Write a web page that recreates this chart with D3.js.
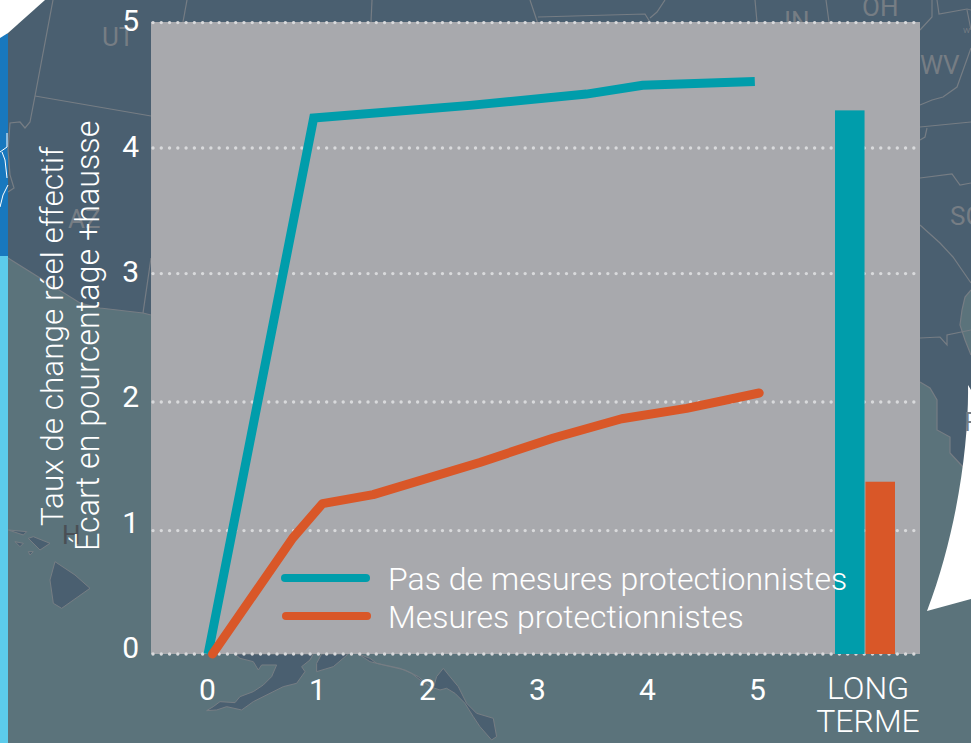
<!DOCTYPE html>
<html>
<head>
<meta charset="utf-8">
<script src="https://cdn.jsdelivr.net/npm/d3@7"></script>
<style>
html, body { margin: 0; padding: 0; background: #fff; }
svg { display: block; }
text { font-family: Roboto, sans-serif; fill: #fff; }
</style>
</head>
<body>
<svg width="971" height="743"></svg>
<script>
// data
var yTicks = [0, 1, 2, 3, 4, 5];
var xTicks = [0, 1, 2, 3, 4, 5];
var seriesNames = ["Pas de mesures protectionnistes", "Mesures protectionnistes"];
var seriesColors = ["#009dab", "#d95728"];
var noMeasuresX = [0.01, 0.97, 2.39, 3.45, 3.96, 4.98];
var noMeasuresY = [0, 4.24, 4.34, 4.43, 4.50, 4.53];
var measuresX = [0.05, 0.78, 1.05, 1.51, 2.48, 3.15, 3.77, 4.36, 5.02];
var measuresY = [0, 0.94, 1.21, 1.28, 1.53, 1.72, 1.87, 1.95, 2.07];
var longTerm = [4.30, 1.38];
var yTitle = ["Taux de change réel effectif", "Écart en pourcentage +hausse"];
var longLabel = ["LONG", "TERME"];

var svg = d3.select("svg");

// fond : carte des Etats-Unis (decor)
var land = "#4a5f70", sea = "#5b737b", border = "#767d84";
var bg = svg.append("g");
bg.append("rect").attr("width", 971).attr("height", 743).attr("fill", sea);
bg.append("rect").attr("y", 34).attr("width", 8).attr("height", 226).attr("fill", "#1878be");
bg.append("rect").attr("y", 256).attr("width", 8).attr("height", 487).attr("fill", "#5ccbeb");
bg.append("path").attr("fill", land)
  .attr("d", "M8,33L45,0H971V290L965,297L962,310L960,325L965,340L971,355V395L963,467L950,453L950,437L937,430L937,400L930,388L920,382H151V315L143,313L100,308L80,303L8,258Z");

var borders = [
  "M53,0L35,96L30,122L25,128L20,122L10,123L8,150L10,175L14,188L8,192",
  "M35,96L151,116",
  "M187,0L183,22",
  "M151,258L143,313",
  "M8,258L80,303L100,308L143,313L151,315",
  "M372,0L371,22",
  "M530,0L535,15L538,24M538,17L645,14L650,22M650,18L657,12L665,0",
  "M755,0L757,22M826,0L829,22",
  "M932,0L932,17L920,30",
  "M937,0L939,14L967,9L971,10M967,10L971,30",
  "M971,48L957,87L943,97L932,100L920,105",
  "M920,127L971,122M927,128L925,137L920,140",
  "M920,178L952,174L960,185L971,183",
  "M920,225L940,243L953,257L962,270L971,283",
  "M971,290L965,297L962,310L960,325L965,340L971,355",
  "M920,338L940,337L947,345L947,335L971,330",
  "M920,382L930,388L937,400L937,430L950,437L950,453L963,467"
];
bg.selectAll("path.border").data(borders).enter().append("path")
  .attr("class", "border")
  .attr("d", function(d) { return d; })
  .attr("fill", "none").attr("stroke", border).attr("stroke-width", 1.2);

// iles + Alaska
var islands = [
  "M165,245L150,300L160,370L185,385L270,325L225,285Z",
  "M85,175L100,170L150,190L120,210Z",
  "M45,185L70,190L60,200Z",
  "M25,150L80,155L70,165Z",
  "M85,215L100,215L90,225Z",
  "M705,522L720,535L760,545L775,570L785,555L830,555L815,590L790,615L760,635L720,650L705,668L660,665L640,680L620,692L650,690L680,680L725,690L760,665L810,640L850,620L890,610L915,575L905,560L930,540L940,522Z",
  "M950,575L1000,560L1045,522H965L950,550Z",
  "M1075,522L1110,535L1130,550L1200,565L1235,580L1260,600L1300,625L1310,590L1330,565L1350,590L1375,620L1400,670L1430,700L1480,715L1490,770L1475,780L1440,740L1420,710L1395,670L1365,640L1340,625L1320,630L1290,620L1255,590L1215,570L1150,555L1110,545Z"
];
bg.append("g").attr("transform", "translate(0,480) scale(0.3333)")
  .selectAll("path").data(islands).enter().append("path")
  .attr("d", function(d) { return d; })
  .attr("fill", land).attr("stroke", border).attr("stroke-width", 3);

// rivieres a gauche
bg.append("path").attr("fill", "none").attr("stroke", "#fff").attr("stroke-width", 1)
  .attr("d", "M7,133L7,147L0,152M2,152L5,160L7,178M8,185L3,195L0,207");

// blancs
bg.append("path").attr("fill", "#fff").attr("d", "M0,0H45L8,33L0,38Z");
bg.append("path").attr("fill", "#fff")
  .attr("d", "M968,385C969,440 958,530 927,611L971,599V390Z");

// noms des etats
var stateNames = [
  { t: "UT", x: 102, y: 46, s: 26, c: border },
  { t: "AZ", x: 68, y: 228, s: 26, c: border },
  { t: "H", x: 62, y: 544, s: 26, c: "#4a4f55" },
  { t: "OH", x: 862, y: 16, s: 26, c: border },
  { t: "IN", x: 784, y: 30, s: 26, c: border },
  { t: "WV", x: 920, y: 74, s: 26, c: border },
  { t: "SC", x: 950, y: 225, s: 26, c: border },
  { t: "F", x: 964, y: 431, s: 26, c: border },
  { t: "W", x: 963, y: 33, s: 8, c: border }
];
bg.selectAll("text").data(stateNames).enter().append("text")
  .attr("x", function(d) { return d.x; })
  .attr("y", function(d) { return d.y; })
  .attr("font-size", function(d) { return d.s; })
  .style("fill", function(d) { return d.c; })
  .text(function(d) { return d.t; });

// panneau gris
svg.append("rect").attr("x", 151).attr("y", 22).attr("width", 769).attr("height", 632).attr("fill", "#a8a9ad");

// echelles
var x = d3.scaleLinear().domain([0, 5]).range([207, 757]);
// les lignes de grille de l'original ne sont pas tout a fait regulieres
var y = d3.scaleLinear().domain(yTicks).range([654, 530.6, 402, 273.6, 148, 22.6]);
var yLabel = d3.scaleLinear().domain([0, 5]).range([648, 21]);
var barX = d3.scaleBand().domain(seriesNames).range([835, 895]).paddingInner(0.03);

// grille pointillee
svg.append("g").selectAll("line").data(yTicks).enter().append("line")
  .attr("x1", 153).attr("x2", 919)
  .attr("y1", function(d) { return y(d); })
  .attr("y2", function(d) { return y(d); })
  .attr("stroke", "#d9dadc")
  .attr("stroke-width", 3.4)
  .attr("stroke-linecap", "round")
  .attr("stroke-dasharray", "0 8.27");

// axes
var yAxis = svg.append("g").attr("transform", "translate(139,0)")
  .call(d3.axisLeft(yLabel).tickValues(yTicks).tickSize(0).tickPadding(0).tickFormat(d3.format("d")));
var xAxis = svg.append("g").attr("transform", "translate(0,679)")
  .call(d3.axisBottom(x).tickValues(xTicks).tickSize(0).tickPadding(0).tickFormat(d3.format("d")));
[yAxis, xAxis].forEach(function(a) {
  a.select(".domain").remove();
  a.selectAll("text").attr("font-size", 30).attr("font-weight", 400).attr("font-family", "Roboto, sans-serif");
});

// barres long terme
svg.append("g").selectAll("rect").data(longTerm).enter().append("rect")
  .attr("x", function(d, i) { return barX(seriesNames[i]); })
  .attr("y", function(d) { return y(d); })
  .attr("width", barX.bandwidth())
  .attr("height", function(d) { return y(0) - y(d); })
  .attr("fill", function(d, i) { return seriesColors[i]; });

svg.append("text").attr("text-anchor", "middle").attr("font-size", 32).attr("font-weight", 300)
  .selectAll("tspan").data(longLabel).enter().append("tspan")
  .attr("x", 868)
  .attr("y", function(d, i) { return 699 + i * 33; })
  .text(function(d) { return d; });

// legende (texte sous les barres, le s passe dessus)
var legendY = d3.scalePoint().domain(seriesNames).range([578, 616]);
var legend = svg.append("g").selectAll("g").data(seriesNames).enter().append("g");
legend.append("line")
  .attr("x1", function(d, i) { return 285 + i; })
  .attr("x2", function(d, i) { return 366 + i; })
  .attr("y1", function(d) { return legendY(d); })
  .attr("y2", function(d) { return legendY(d); })
  .attr("stroke", function(d, i) { return seriesColors[i]; })
  .attr("stroke-width", 8)
  .attr("stroke-linecap", "round");
legend.append("text")
  .attr("x", 388)
  .attr("y", function(d) { return legendY(d) + 12; })
  .attr("font-size", 32)
  .attr("font-weight", 300)
  .text(function(d) { return d; });

// courbes
var line = d3.line().x(function(d) { return x(d[0]); }).y(function(d) { return y(d[1]); });
svg.append("path")
  .attr("d", line(d3.zip(noMeasuresX, noMeasuresY)))
  .attr("fill", "none").attr("stroke", seriesColors[0]).attr("stroke-width", 9);
svg.append("path")
  .attr("d", line(d3.zip(measuresX, measuresY)))
  .attr("fill", "none").attr("stroke", seriesColors[1]).attr("stroke-width", 9)
  .attr("stroke-linecap", "round").attr("stroke-linejoin", "round");

// titre de l'axe y
svg.append("g").selectAll("text").data(yTitle).enter().append("text")
  .attr("transform", function(d, i) { return "translate(" + (63 + i * 36) + "," + (i ? 551 : 526) + ") rotate(-90)"; })
  .attr("font-size", function(d, i) { return i ? 32.3 : 31.5; })
  .attr("font-weight", 300)
  .text(function(d) { return d; });
</script>
</body>
</html>
